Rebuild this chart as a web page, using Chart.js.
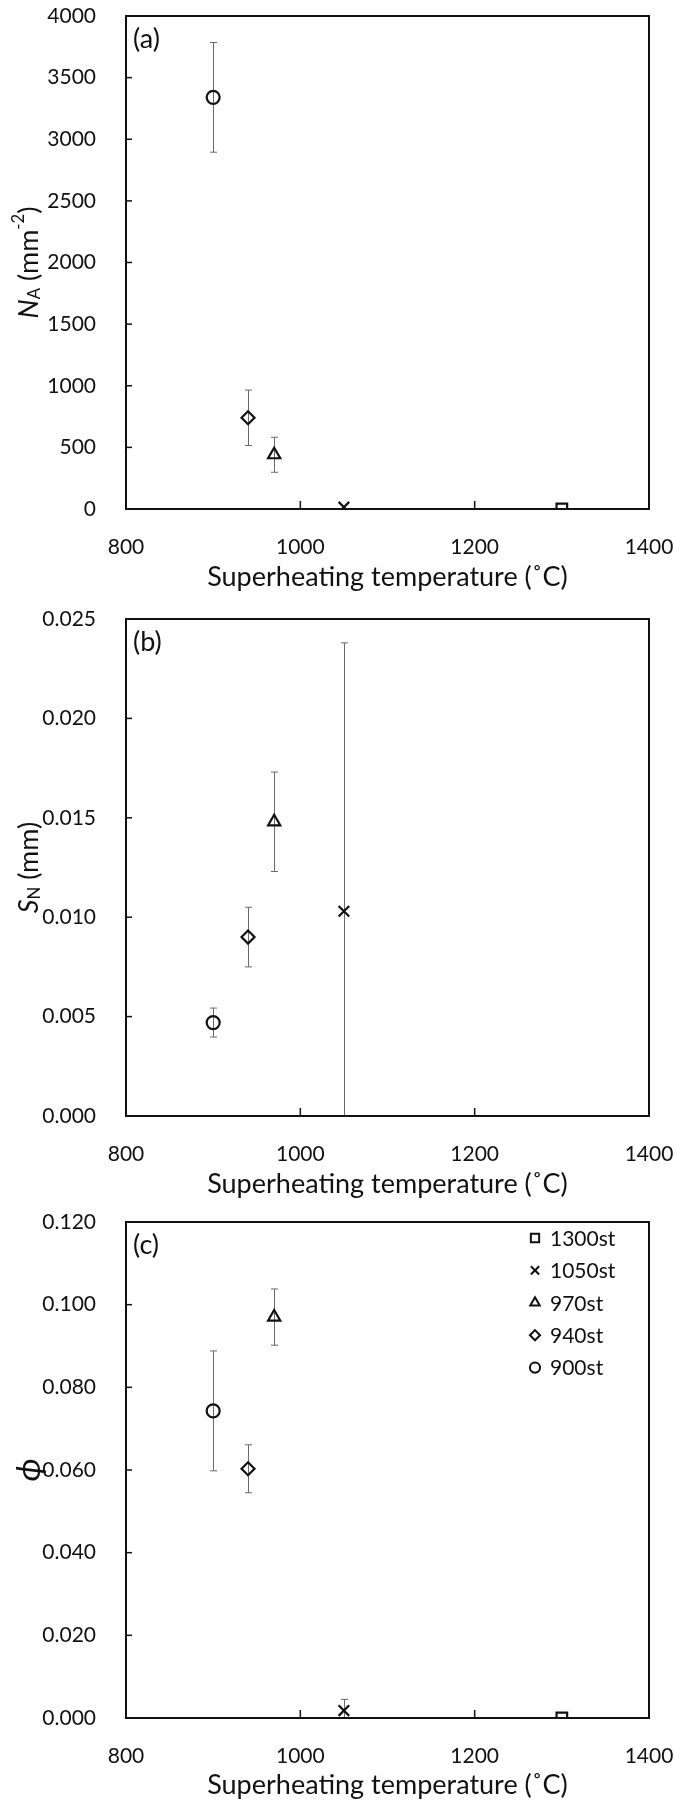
<!DOCTYPE html>
<html>
<head>
<meta charset="utf-8">
<script src="https://cdn.jsdelivr.net/npm/chart.js@4.4.0/dist/chart.umd.min.js"></script>
<style>
  body { margin: 0; background: #fff; }
  canvas { position: absolute; left: 0; }
</style>
</head>
<body>
<canvas id="chartA" width="675" height="600" style="top:0px"></canvas>
<canvas id="chartB" width="675" height="600" style="top:600px"></canvas>
<canvas id="chartC" width="675" height="600" style="top:1200px"></canvas>
<script>
// data
const temps = [900, 940, 970, 1050, 1300];
const sampleNames = ['900st', '940st', '970st', '1050st', '1300st'];

const naMean = [3340, 740, 440, 15, 0];
const naErr = [445, 225, 142, 0, 0];

const snMean = [0.0047, 0.0090, 0.0148, 0.0103, null];
const snErr = [0.00073, 0.0015, 0.0025, 0.0135, null];

const phiMean = [0.0743, 0.0603, 0.0970, 0.0018, 0.0];
const phiErr = [0.0145, 0.0058, 0.0068, 0.0027, 0];

const xTicks = [800, 1000, 1200, 1400];
const naTicks = [0, 500, 1000, 1500, 2000, 2500, 3000, 3500, 4000];
const snTicks = [0, 0.005, 0.010, 0.015, 0.020, 0.025];
const phiTicks = [0, 0.020, 0.040, 0.060, 0.080, 0.100, 0.120];

const ink = '#111111';
const barColor = '#6a6a6a';
const FONT = "Lato, 'Noto Sans', 'DejaVu Sans', sans-serif";

// marker per sample, same order as temps
const markers = [
  { style: 'circle', r: 6.5 },
  { style: 'rectRot', r: 6.5 },
  { style: 'triangle', r: 7 },
  { style: 'crossRot', r: 7.5 },
  { style: 'rect', r: 7.5 }
];

function drawRichVertical(ctx, cx, cy, parts, size) {
  // measure first
  const pieces = parts.map(p => {
    let s = (p.sub || p.sup) ? size * 0.62 : size;
    if (p.big) s = size * p.big;
    const font = (p.it ? 'italic ' : '') + s + 'px ' + FONT;
    ctx.font = font;
    return { text: p.t, font: font, w: ctx.measureText(p.t).width, dy: p.sub ? size * 0.22 : (p.sup ? -size * 0.38 : 0) };
  });
  const total = pieces.reduce((a, p) => a + p.w, 0);
  ctx.save();
  ctx.translate(cx, cy);
  ctx.rotate(-Math.PI / 2);
  ctx.fillStyle = ink;
  ctx.textBaseline = 'middle';
  ctx.textAlign = 'left';
  let x = -total / 2;
  pieces.forEach(p => {
    ctx.font = p.font;
    ctx.fillText(p.text, x, p.dy);
    x += p.w;
  });
  ctx.restore();
}

function makeDecor(cfg) {
  return {
    id: 'decor' + cfg.label,
    beforeDatasetsDraw(chart) {
      // error bars
      const ctx = chart.ctx;
      const area = chart.chartArea;
      const ys = chart.scales.y;
      ctx.save();
      ctx.beginPath();
      ctx.rect(area.left, area.top - 1, area.width, area.height + 1);
      ctx.clip();
      ctx.strokeStyle = barColor;
      ctx.lineWidth = 1;
      chart.data.datasets.forEach((ds, i) => {
        const meta = chart.getDatasetMeta(i);
        if (!ds.data.length || !meta.data[0]) return;
        const raw = ds.data[0];
        if (!raw.err) return;
        const px = Math.round(meta.data[0].x) + 0.5;
        const top = ys.getPixelForValue(raw.y + raw.err);
        const bot = ys.getPixelForValue(raw.y - raw.err);
        ctx.beginPath();
        ctx.moveTo(px, top);
        ctx.lineTo(px, bot);
        ctx.moveTo(px - 3.5, top);
        ctx.lineTo(px + 3.5, top);
        ctx.moveTo(px - 3.5, bot);
        ctx.lineTo(px + 3.5, bot);
        ctx.stroke();
      });
      ctx.restore();
    },
    afterDraw(chart) {
      const ctx = chart.ctx;
      const area = chart.chartArea;
      ctx.save();
      ctx.strokeStyle = ink;
      // inner ticks
      ctx.lineWidth = 1.5;
      chart.scales.y.ticks.forEach(t => {
        const py = chart.scales.y.getPixelForValue(t.value);
        ctx.beginPath();
        ctx.moveTo(area.left, py);
        ctx.lineTo(area.left + 6, py);
        ctx.stroke();
      });
      chart.scales.x.ticks.forEach(t => {
        const px = chart.scales.x.getPixelForValue(t.value);
        ctx.beginPath();
        ctx.moveTo(px, area.bottom);
        ctx.lineTo(px, area.bottom - 8);
        ctx.stroke();
      });
      // frame
      ctx.lineWidth = 2;
      ctx.strokeRect(area.left, area.top, area.width, area.height);
      // panel letter
      ctx.fillStyle = ink;
      ctx.font = '27px ' + FONT;
      ctx.textAlign = 'left';
      ctx.textBaseline = 'middle';
      ctx.fillText(cfg.label, area.left + 7, area.top + 23);
      // y title
      drawRichVertical(ctx, 29, (area.top + area.bottom) / 2, cfg.yTitle, 27);
      // legend (panel c only)
      if (cfg.legend) {
        const order = [4, 3, 2, 1, 0];
        ctx.font = '21px ' + FONT;
        order.forEach((idx, row) => {
          const y = area.top + 16 + row * 32.4;
          const m = markers[idx];
          ctx.fillStyle = 'rgba(0,0,0,0)';
          ctx.strokeStyle = ink;
          Chart.helpers.drawPoint(ctx, {
            pointStyle: m.style, radius: m.r * 0.78, borderWidth: 1.8, rotation: 0
          }, area.right - 114, y);
          ctx.fillStyle = ink;
          ctx.fillText(sampleNames[idx], area.right - 99, y + 1);
        });
      }
      ctx.restore();
    }
  };
}

function buildDatasets(means, errs) {
  return temps.map((t, i) => ({
    label: sampleNames[i],
    data: means[i] === null ? [] : [{ x: t, y: means[i], err: errs[i] }],
    pointStyle: markers[i].style,
    pointRadius: markers[i].r,
    pointHoverRadius: markers[i].r,
    pointBorderWidth: 2.2,
    pointBorderColor: ink,
    pointBackgroundColor: 'rgba(0,0,0,0)'
  }));
}

function makePanel(id, means, errs, yTicks, yMax, decimals, cfg) {
  const ctx = document.getElementById(id).getContext('2d');
  return new Chart(ctx, {
    type: 'scatter',
    data: { datasets: buildDatasets(means, errs) },
    options: {
      responsive: false,
      animation: false,
      devicePixelRatio: 1,
      layout: { padding: { top: cfg.top, right: 26, left: 0, bottom: 0 } },
      plugins: { legend: { display: false }, tooltip: { enabled: false } },
      scales: {
        x: {
          type: 'linear',
          min: 800,
          max: 1400,
          afterBuildTicks: (scale) => { scale.ticks = xTicks.map(v => ({ value: v })); },
          afterFit: (scale) => {
            scale.height = 600 - cfg.bottom;
            scale.paddingLeft = 0;
            scale.paddingRight = 0;
          },
          grid: { display: false },
          border: { display: false },
          ticks: {
            color: ink,
            font: { family: FONT, size: 21 },
            padding: 18,
            maxRotation: 0,
            callback: (v) => String(v)
          },
          title: {
            display: true,
            text: 'Superheating temperature (˚C)',
            color: ink,
            font: { family: FONT, size: 27 },
            padding: { top: 0, bottom: 600 - cfg.titleY - 16 }
          }
        },
        y: {
          type: 'linear',
          min: 0,
          max: yMax,
          afterBuildTicks: (scale) => { scale.ticks = yTicks.map(v => ({ value: v })); },
          afterFit: (scale) => {
            scale.width = 126;
            scale.paddingTop = 0;
            scale.paddingBottom = 0;
          },
          grid: { display: false },
          border: { display: false },
          ticks: {
            color: ink,
            font: { family: FONT, size: 21 },
            padding: 22,
            callback: (v) => Number(v).toFixed(decimals)
          }
        }
      }
    },
    plugins: [makeDecor(cfg)]
  });
}

makePanel('chartA', naMean, naErr, naTicks, 4000, 0, {
  label: '(a)', top: 16, bottom: 509, titleY: 577, legend: false,
  yTitle: [{ t: 'N', it: true }, { t: 'A', sub: true }, { t: ' (mm' }, { t: '-2', sup: true }, { t: ')' }]
});
makePanel('chartB', snMean, snErr, snTicks, 0.025, 3, {
  label: '(b)', top: 19, bottom: 516, titleY: 584, legend: false,
  yTitle: [{ t: 'S', it: true }, { t: 'N', sub: true }, { t: ' (mm)' }]
});
makePanel('chartC', phiMean, phiErr, phiTicks, 0.120, 3, {
  label: '(c)', top: 22, bottom: 518, titleY: 585, legend: true,
  yTitle: [{ t: 'ϕ', it: true, big: 1.25 }]
});
</script>
</body>
</html>
